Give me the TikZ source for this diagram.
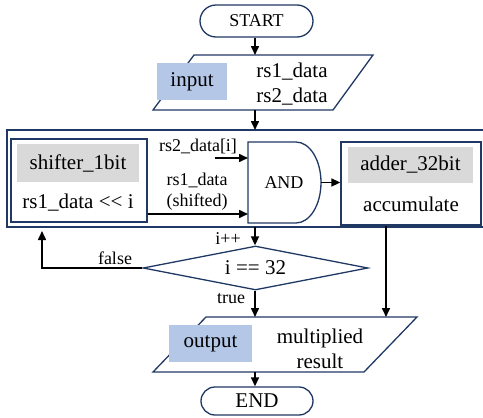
\documentclass[tikz,border=0pt]{standalone}
\usepackage{fontspec}
\setmainfont{Liberation Serif}
\usetikzlibrary{arrows.meta,shapes.geometric}
\definecolor{navy}{HTML}{203864}
\definecolor{tagblue}{HTML}{B4C7E7}
\definecolor{taggray}{HTML}{D9D9D9}
\newcommand\txtL{\fontsize{21}{25}\selectfont}
\newcommand\txtS{\fontsize{18}{21}\selectfont}
\begin{document}
\begin{tikzpicture}[x=1pt,y=-1pt,
  outline/.style={draw=navy,line width=1.3pt},
  conn/.style={line width=1.6pt,-{Triangle[length=9pt,width=8pt]}},
  term/.style={outline,rounded corners=#1,minimum width=113pt,inner sep=0pt},
  blocktag/.style={fill=tagblue,inner sep=0pt,font=\txtL},
  greytag/.style={fill=taggray,inner sep=0pt,font=\txtL},
  unit/.style={outline,inner sep=0pt},
  lbl/.style={inner sep=0pt,font=\txtS},
  txt/.style={inner sep=0pt,font=\txtL,align=center}]
\useasboundingbox (0,0) rectangle (483,418);

% terminals
\node[term=16pt,minimum height=32pt,font=\txtS] (start) at (256.5,21) {START};
\node[term=14pt,minimum height=28pt,minimum width=112pt,font=\txtL] (stop) at (257,401) {END};

% input parallelogram
\draw[outline] (194,55) -- (373,55) -- (333,110) -- (153,110) -- cycle;
\coordinate (inTop) at (255,55);
\coordinate (inBot) at (255,110);
\node[blocktag,minimum width=70pt,minimum height=37pt] (intag) at (192,81.5) {input};
\node[txt] (indata) at (292,84) {rs1\_data\\rs2\_data};

% datapath frame (runs off the right edge)
\draw[outline] (490,130) -- (7,130) -- (7,227) -- (490,227);
\coordinate (frameTop) at (255,130);
\coordinate (frameBot) at (255,227);

% shifter
\node[unit,minimum width=136pt,minimum height=83pt] (shifter) at (79,180.5) {};
\node[greytag,minimum width=122pt,minimum height=38pt] (shtag) at (78,163) {shifter\_1bit};
\node[txt] (shop) at (78,203) {rs1\_data {<}{<} i};

% AND gate
\draw[outline] (248,142) -- (296,142)
  arc[start angle=90,end angle=-90,x radius=25pt,y radius=40.5pt] -- (248,223) -- cycle;
\node[lbl] (andg) at (284,183) {AND};
\coordinate (andIn1) at (248,158);
\coordinate (andIn2) at (248,214);
\coordinate (andOut) at (321,182.5);
\coordinate (rs2src) at (215,158);
\node[lbl] (rs2lbl) at (198,146) {rs2\_data[i]};
\node[lbl,align=center] (rs1lbl) at (197,192) {rs1\_data\\(shifted)};

% adder
\node[unit,minimum width=140pt,minimum height=83pt] (adder) at (411,183.5) {};
\node[greytag,minimum width=125pt,minimum height=36pt] (adtag) at (410.5,165) {adder\_32bit};
\node[txt] (acc) at (411,204) {accumulate};

% decision
\node[diamond,outline,aspect=5,minimum width=225pt,minimum height=44pt,inner sep=0pt,font=\txtL] (dec) at (255.5,268) {i == 32};
\coordinate (loopUp) at (42,231);

% output parallelogram
\draw[outline] (206,317) -- (417,317) -- (364,372) -- (153,372) -- cycle;
\coordinate (outTop) at (255,317);
\coordinate (outTopR) at (386,317);
\coordinate (outBot) at (255,372);
\node[blocktag,minimum width=83pt,minimum height=37pt] (outtag) at (210.5,343.5) {output};
\node[txt] (outdata) at (320,349) {multiplied\\result};

% connectors
\draw[conn] (start.south -| inTop) -- (inTop);
\draw[conn] (inBot) -- (frameTop);
\draw[conn] (rs2src) -- (andIn1);
\draw[conn] (shifter.east |- andIn2) -- (andIn2);
\draw[conn] (andOut) -- (adder.west |- andOut);
\draw[conn] (frameBot) -- (dec.north -| frameBot);
\node[lbl] (incl) at (228,239) {i++};
\draw[conn] (dec.west) -| (loopUp);
\node[lbl] (falsel) at (115,258) {false};
\draw[conn] (dec.south -| outTop) -- (outTop);
\node[lbl] (truel) at (231,299) {true};
\draw[conn] (adder.south -| outTopR) -- (outTopR);
\draw[conn] (outBot) -- (stop.north -| outBot);
\end{tikzpicture}
\end{document}
